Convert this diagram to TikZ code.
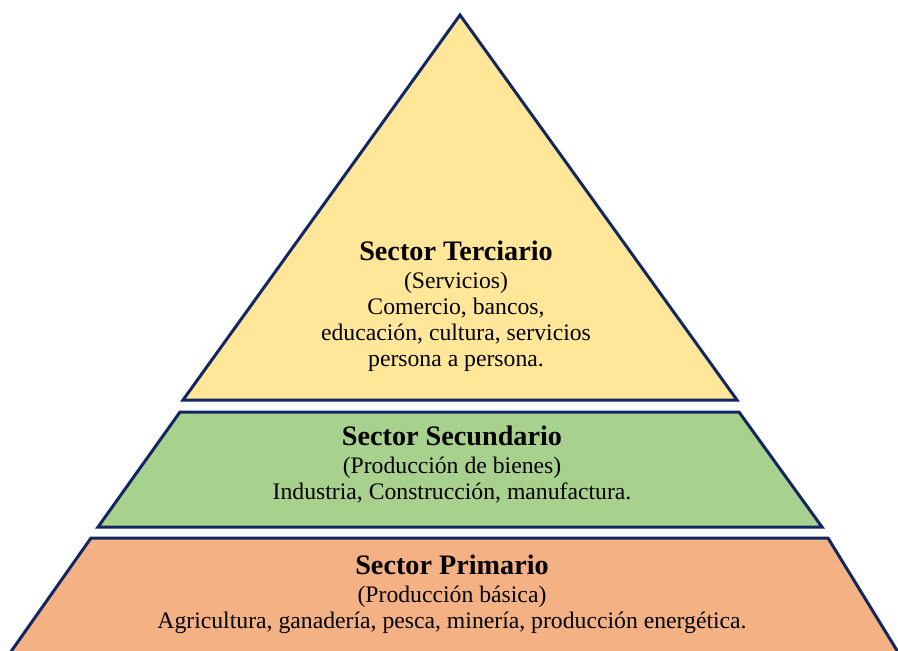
\documentclass[tikz,border=0pt]{standalone}
\usepackage{fontspec}
\setmainfont{Liberation Serif}
\definecolor{edge}{RGB}{18,38,98}
\definecolor{yel}{RGB}{255,230,153}
\definecolor{grn}{RGB}{169,209,142}
\definecolor{org}{RGB}{244,177,131}
\tikzset{
  layer/.style={draw=edge, line width=3pt, line join=miter},
  lbl/.style={align=center, inner sep=0pt, font=\fontsize{23.7}{26}\selectfont},
}
\newcommand{\ttl}[1]{{\fontsize{28.2}{30}\selectfont\bfseries #1}}
\begin{document}
\begin{tikzpicture}[x=1pt,y=-1pt]
\useasboundingbox (0,0) rectangle (898,651);
\begin{scope}
\clip (0,0) rectangle (898,651);
\draw[layer, fill=org] (91,538) -- (828,538) -- (909,670) -- (-2,670) -- cycle;
\end{scope}
\draw[layer, fill=grn] (180,412) -- (739,412) -- (822,527) -- (98,527) -- cycle;
\draw[layer, fill=yel] (460,15) -- (737,400) -- (183,400) -- cycle;
\node[lbl] (terc) at (456,306) {\ttl{Sector Terciario}\\[2pt](Servicios)\\Comercio, bancos,\\educación, cultura, servicios\\persona a persona.};
\node[lbl] (secu) at (452,465) {\ttl{Sector Secundario}\\[2pt](Producción de bienes)\\Industria, Construcción, manufactura.};
\node[lbl] (prim) at (452,594) {\ttl{Sector Primario}\\[2pt](Producción básica)\\Agricultura, ganadería, pesca, minería, producción energética.};
\end{tikzpicture}
\end{document}
